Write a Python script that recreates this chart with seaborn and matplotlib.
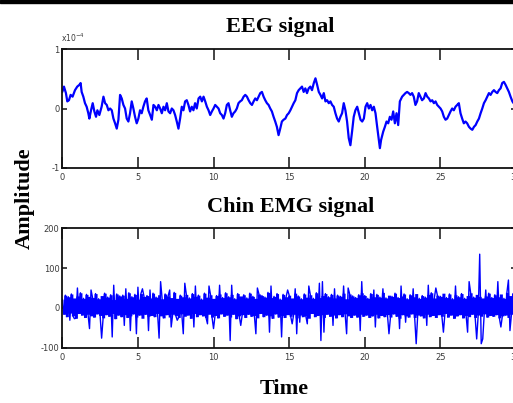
import numpy as np
import pandas as pd
import seaborn as sns
import matplotlib
matplotlib.use("Agg")
import matplotlib.pyplot as plt
from matplotlib.patches import Rectangle
from matplotlib import font_manager

# ---------------- data ----------------
# EEG (amplitude in units of 1e-4)
eeg_t = [0.00,0.11,0.24,0.33,0.44,0.55,0.68,0.84,0.99,1.13,1.21,1.28,1.39,1.50,1.61,1.72,1.79,1.90,2.01,2.12,
         2.23,2.32,2.45,2.60,2.72,2.83,2.94,3.05,3.16,3.27,3.38,3.49,3.60,3.71,3.82,3.93,4.04,4.15,4.26,4.37,
         4.48,4.59,4.70,4.81,4.92,5.03,5.14,5.25,5.36,5.47,5.58,5.69,5.81,5.92,6.03,6.14,6.25,6.36,6.47,6.58,
         6.69,6.80,6.91,7.02,7.13,7.24,7.35,7.46,7.57,7.68,7.79,7.90,8.01,8.12,8.23,8.34,8.45,8.56,8.67,8.78,
         8.89,9.01,9.12,9.23,9.34,9.45,9.56,9.67,9.78,9.89,10.00,10.11,10.22,10.33,10.44,10.55,10.66,10.77,10.88,10.99,
         11.10,11.21,11.32,11.43,11.54,11.65,11.76,11.87,11.99,12.10,12.21,12.32,12.43,12.54,12.65,12.76,12.87,12.98,13.09,13.20,
         13.31,13.42,13.53,13.64,13.75,13.86,13.97,14.08,14.19,14.30,14.41,14.52,14.63,14.75,14.86,14.97,15.08,15.19,15.30,15.41,
         15.52,15.63,15.74,15.85,15.96,16.07,16.18,16.29,16.40,16.51,16.63,16.74,16.85,16.96,17.07,17.18,17.29,17.40,17.51,17.62,
         17.73,17.84,17.95,18.06,18.17,18.28,18.39,18.50,18.61,18.72,18.83,18.94,19.05,19.16,19.27,19.38,19.50,19.61,19.72,19.83,
         19.94,20.05,20.16,20.27,20.38,20.49,20.60,20.71,20.82,20.93,21.00,21.08,21.22,21.33,21.44,21.55,21.66,21.77,21.88,21.99,
         22.10,22.21,22.32,22.47,22.58,22.69,22.80,22.91,23.02,23.13,23.24,23.35,23.46,23.57,23.68,23.79,23.91,24.02,24.13,24.24,
         24.35,24.46,24.57,24.68,24.79,24.90,25.01,25.12,25.23,25.34,25.45,25.56,25.67,25.78,25.89,26.00,26.11,26.22,26.33,26.44,
         26.55,26.66,26.77,26.89,27.00,27.11,27.22,27.33,27.44,27.55,27.66,27.77,27.88,27.99,28.10,28.21,28.32,28.43,28.54,28.65,
         28.76,28.87,28.98,29.09,29.20,29.31,29.42,29.53,29.64,29.76,29.84]
eeg_v = [0.28,0.37,0.26,0.12,0.14,0.23,0.20,0.31,0.37,0.40,0.43,0.28,0.20,0.09,0.03,-0.08,-0.17,-0.03,0.09,-0.05,
         -0.14,-0.03,-0.11,0.03,0.20,0.09,0.06,-0.03,0.00,-0.03,-0.17,-0.25,-0.34,-0.19,0.23,0.17,0.06,0.00,-0.17,-0.22,
         -0.08,0.12,0.00,-0.14,-0.25,-0.17,-0.03,-0.08,0.03,0.12,0.17,-0.03,-0.11,-0.19,0.06,0.03,-0.03,0.06,0.00,-0.08,
         0.03,-0.03,0.09,-0.05,-0.08,0.00,-0.03,-0.11,-0.22,-0.34,-0.17,0.03,-0.03,0.12,0.14,0.06,-0.05,0.03,-0.03,0.09,
         0.00,0.17,0.20,0.12,0.20,0.12,0.03,-0.03,-0.11,-0.05,0.00,0.06,0.03,0.00,-0.08,-0.11,-0.17,-0.08,0.06,0.09,
         -0.03,-0.14,-0.08,-0.05,0.00,0.09,0.12,0.14,0.20,0.23,0.20,0.14,0.09,0.06,0.12,0.17,0.14,0.20,0.26,0.28,
         0.20,0.14,0.09,0.06,0.00,-0.05,-0.14,-0.22,-0.31,-0.45,-0.34,-0.22,-0.19,-0.17,-0.11,-0.08,-0.03,0.03,0.09,0.14,
         0.26,0.31,0.34,0.37,0.28,0.34,0.26,0.34,0.37,0.31,0.43,0.51,0.40,0.28,0.23,0.17,0.26,0.12,0.14,0.09,
         0.12,0.06,0.03,-0.08,-0.17,-0.22,-0.14,-0.08,0.09,-0.03,-0.22,-0.50,-0.62,-0.39,-0.14,-0.03,0.03,-0.08,-0.19,-0.22,
         -0.17,0.03,0.09,0.00,0.06,-0.03,0.03,-0.08,-0.31,-0.53,-0.67,-0.53,-0.39,-0.31,-0.22,-0.25,-0.14,-0.19,-0.05,-0.25,
         -0.08,-0.28,0.12,0.20,0.23,0.26,0.28,0.26,0.23,0.26,0.20,0.06,0.12,0.26,0.20,0.14,0.17,0.26,0.20,0.17,
         0.12,0.14,0.09,0.12,0.06,0.03,0.00,-0.05,-0.14,-0.19,-0.17,-0.11,-0.05,0.00,-0.03,0.03,0.06,0.09,-0.08,-0.17,
         -0.25,-0.22,-0.25,-0.31,-0.34,-0.36,-0.31,-0.28,-0.22,-0.17,-0.08,0.00,0.09,0.14,0.20,0.26,0.23,0.28,0.31,0.28,
         0.26,0.31,0.34,0.43,0.45,0.40,0.34,0.28,0.20,0.12,0.09]

# Chin EMG, sampled every 0.1 s: background activity
emg_dt = 0.1
emg_core = [
    22,-16,32,-22,28,-13,35,-20,25,-26,30,-14,38,-18,24,-24,34,-16,29,-20,
    26,-23,36,-15,23,-19,31,-25,37,-17,27,-21,33,-14,21,-27,35,-18,30,-22,
    32,-17,24,-24,38,-20,28,-15,34,-23,22,-18,36,-26,29,-16,31,-21,25,-19,
    37,-22,27,-14,33,-20,23,-25,35,-17,30,-23,26,-16,39,-19,24,-24,32,-15,
    28,-21,34,-18,25,-26,36,-14,29,-22,32,-17,22,-20,37,-24,27,-16,33,-23,
    24,-19,31,-25,35,-15,26,-21,38,-18,28,-23,34,-16,23,-27,36,-20,30,-17,
    33,-24,25,-16,37,-21,29,-19,24,-25,35,-14,31,-22,27,-18,39,-20,26,-26,
    29,-15,36,-23,22,-19,34,-24,28,-17,32,-21,25,-16,37,-25,30,-18,23,-22,
    35,-20,27,-26,33,-14,24,-22,38,-19,26,-17,31,-24,36,-16,28,-21,34,-18,
    25,-25,32,-17,29,-22,37,-15,23,-20,35,-24,30,-18,26,-23,33,-16,38,-21,
    31,-18,24,-24,36,-20,28,-16,34,-25,27,-19,39,-22,25,-17,32,-23,29,-15,
    37,-21,26,-26,30,-17,35,-20,23,-23,33,-15,28,-24,36,-18,24,-20,31,-25,
    27,-16,34,-22,38,-19,25,-24,32,-17,29,-21,37,-14,26,-23,35,-18,23,-26,
    33,-20,28,-17,36,-25,24,-19,31,-22,38,-16,27,-24,34,-18,29,-21,25,-15,
    30,-23,37,-19,26,-21,33,-17,28,-25,35,-20,24,-18,39,-24,31,-16,36,-22]
# EMG bursts (time in s, amplitude)
emg_up_t = [1.0,1.9,3.4,4.2,5.0,5.3,5.8,6.5,7.1,8.1,8.8,9.7,10.4,11.2,12.9,13.8,14.9,15.4,16.3,17.0,
            17.2,18.0,18.6,18.9,19.8,20.6,21.2,22.4,23.2,24.2,24.7,26.0,26.9,27.6,28.0,28.8,29.5]
emg_up_v = [50,45,57,48,52,48,45,66,45,62,55,55,57,57,50,55,45,48,55,62,
            66,48,55,50,66,45,48,55,48,57,50,55,66,135,45,66,70]
emg_dn_t = [0.5,0.8,1.8,2.6,3.3,4.1,4.5,4.9,5.7,6.4,7.2,7.6,8.0,8.7,9.6,10.0,11.1,11.8,12.8,13.7,
            14.5,15.2,15.5,15.7,16.2,17.1,17.3,17.9,18.8,19.7,20.7,21.6,22.3,22.7,23.4,24.1,25.2,26.8,27.4,27.7,
            27.8,29.0,29.6]
emg_dn_v = [-31,-27,-52,-76,-73,-44,-57,-65,-57,-76,-48,-31,-65,-48,-40,-52,-82,-44,-65,-61,
            -73,-40,-65,-36,-40,-82,-61,-44,-65,-57,-48,-65,-52,-36,-90,-44,-61,-61,-78,-90,
            -78,-48,-57]

x_ticks = [0, 5, 10, 15, 20, 25, 30]
eeg_yticks = [-1, 0, 1]
emg_yticks = [-100, 0, 100, 200]

# ---------------- build series ----------------
core = np.array(emg_core, dtype=float)
emg_v = core.copy()
emg_time = np.arange(len(emg_v)) * emg_dt
for ts, vs in ((emg_up_t, emg_up_v), (emg_dn_t, emg_dn_v)):
    idx = np.clip(np.rint(np.array(ts) / emg_dt).astype(int), 0, len(emg_v) - 1)
    emg_v[idx] = vs
eeg_df = pd.DataFrame({"t": eeg_t, "v": eeg_v})
emg_df = pd.DataFrame({"t": emg_time, "v": emg_v})

# ---------------- style ----------------
sns.set_theme(style="white")
names = {f.name for f in font_manager.fontManager.ttflist}
tickfont = "Liberation Sans Narrow" if "Liberation Sans Narrow" in names else "DejaVu Sans"
plt.rcParams["font.family"] = ["Liberation Serif", "DejaVu Serif"]
plt.rcParams["path.simplify"] = False

W, H = 513, 403
fig = plt.figure(figsize=(W / 100, H / 100), dpi=100)
fig.patch.set_facecolor("white")

def fx(px):
    return px / W

def fy(py):
    return 1 - py / H

x0, x1 = 62.3, 516.0
ax1 = fig.add_axes([fx(x0), fy(167.7), fx(x1 - x0), (167.7 - 49.3) / H])
ax2 = fig.add_axes([fx(x0), fy(347.7), fx(x1 - x0), (347.7 - 228.3) / H])

sns.lineplot(data=eeg_df, x="t", y="v", ax=ax1, color="#0000FF", linewidth=1.6,
             estimator=None, sort=False)
# extent swept by each segment of the dense background activity (a solid band,
# as a densely sampled trace renders)
seg_t = emg_time[:-1] + emg_dt / 2
ax2.fill_between(seg_t, np.minimum(core[:-1], core[1:]), np.maximum(core[:-1], core[1:]),
                 color="#0000FF", linewidth=0, step="mid")
sns.lineplot(data=emg_df, x="t", y="v", ax=ax2, color="#0000FF", linewidth=1.0,
             estimator=None, sort=False)

for ax, yt, ylim in ((ax1, eeg_yticks, (-1, 1)), (ax2, emg_yticks, (-100, 200))):
    ax.set_xlim(0, 30)
    ax.set_ylim(*ylim)
    ax.set_xticks(x_ticks)
    ax.set_xticklabels([str(v) for v in x_ticks])
    ax.set_yticks(yt)
    ax.set_yticklabels([str(v) for v in yt])
    ax.set_xlabel("")
    ax.set_ylabel("")
    ax.set_facecolor("white")
    for s in ax.spines.values():
        s.set_visible(True)
        s.set_color("#111111")
        s.set_linewidth(1.3)
    ax.tick_params(axis="x", direction="in", length=8, width=1.1, top=True, bottom=True,
                   pad=4, labelsize=6, labelcolor="#3a3a3a", color="#111111")
    ax.tick_params(axis="y", direction="in", length=3.5, width=1.1, left=True, right=True,
                   pad=2, labelsize=6, labelcolor="#3a3a3a", color="#111111")
    for lab in ax.get_xticklabels() + ax.get_yticklabels():
        lab.set_fontfamily(tickfont)
    ax.grid(False)

# texts
tkw = dict(ha="center", va="center", fontsize=16, fontweight="bold", color="black")
fig.text(fx(280), fy(27), "EEG signal", **tkw)
fig.text(fx(291), fy(207), "Chin EMG signal", **tkw)
fig.text(fx(25), fy(198), "Amplitude", rotation=90, **tkw)
fig.text(fx(284), fy(389), "Time", **tkw)
fig.text(fx(61), fy(38), "x10$^{-4}$", ha="left", va="center", fontsize=5.5, color="#3a3a3a",
         family=tickfont)

# thin dark band along the top edge
fig.add_artist(Rectangle((0, fy(3)), 1, 3 / H, transform=fig.transFigure, color="black", zorder=10))

fig.savefig("out.png", dpi=100, facecolor="white")
